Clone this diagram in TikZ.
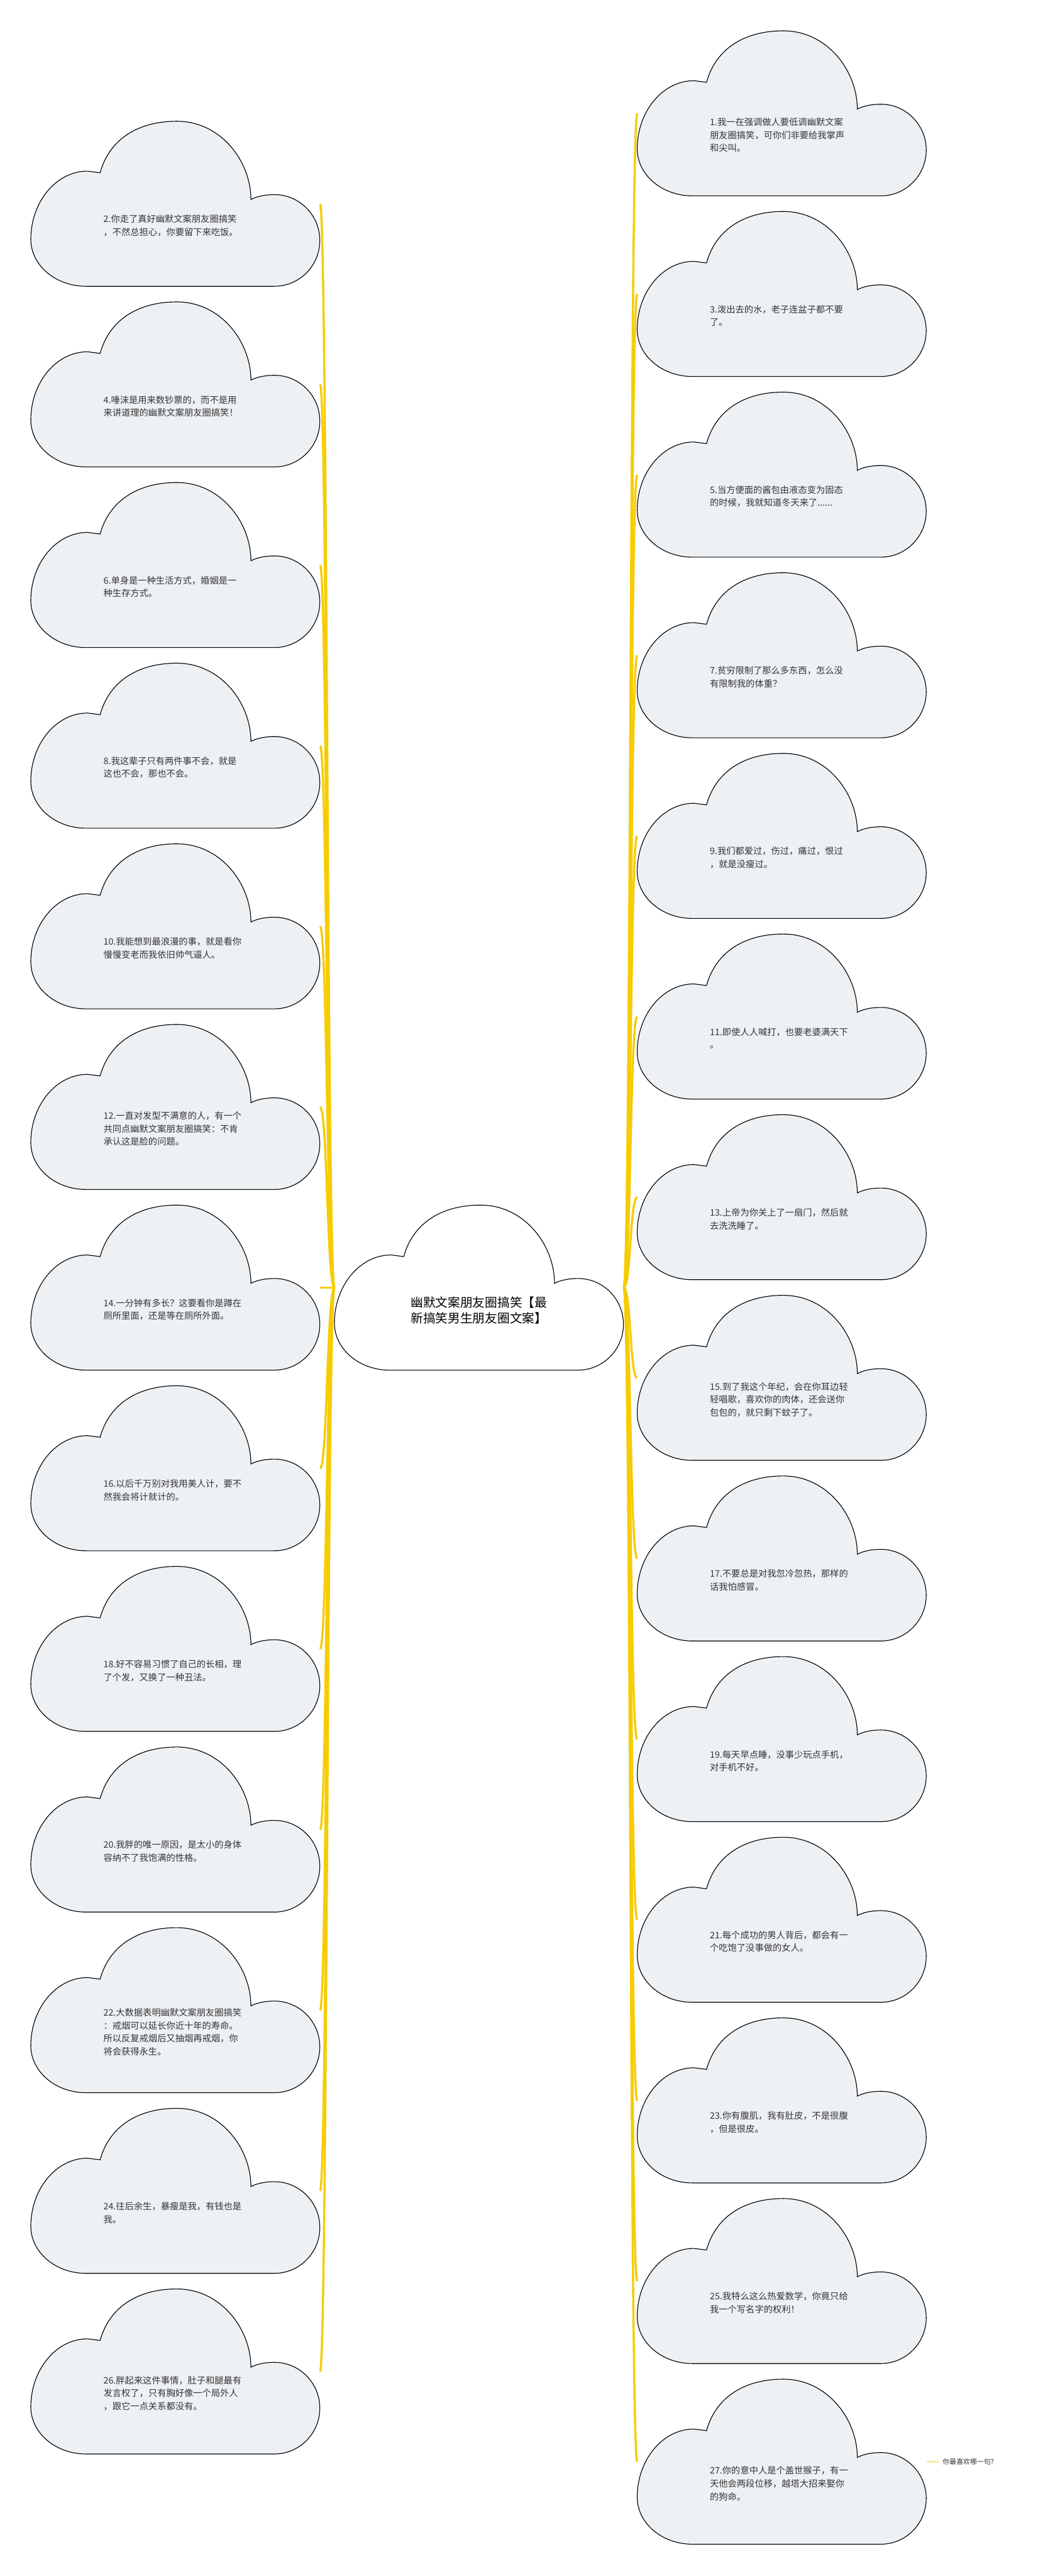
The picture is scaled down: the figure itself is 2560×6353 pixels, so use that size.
\documentclass[tikz,border=0pt]{standalone}
\usepackage{fontspec}
\setmainfont{Noto Sans CJK SC}
\usetikzlibrary{calc,positioning}
\definecolor{CloudClr}{rgb}{0.933,0.945,0.957}
\definecolor{BranchClr}{rgb}{0.965,0.800,0.0}
\definecolor{TextClr}{rgb}{0.2,0.2,0.2}

\tikzset{
  cloudbox/.style={minimum width=14.26cm,minimum height=8.14cm,inner sep=0pt,anchor=north west},
  cloudtext/.style={anchor=west,align=left,inner sep=0pt,text=TextClr,
    font=\fontsize{12.6pt}{18.2pt}\selectfont},
  titletext/.style={anchor=west,align=left,inner sep=0pt,text=black,
    font=\fontsize{17.4pt}{22.2pt}\selectfont},
  picktext/.style={anchor=west,inner xsep=0.2cm,inner ysep=0pt,text=TextClr,
    font=\fontsize{9.6pt}{12pt}\selectfont},
  branch/.style={draw=BranchClr,line width=3pt}
}

% 云朵的轮廓, 左上角在 (#2,#3)
\newcommand{\CloudShape}[3][CloudClr]{%
  \filldraw[fill=#1,draw=black,line width=1pt,shift={(#2,#3)}]
    (136,407) .. controls (61,407) and (0,355) .. (0,291)
    .. controls (0,200) and (62,123) .. (140,123) -- (171,127)
    .. controls (195,40) and (270,0) .. (360,0)
    .. controls (470,0) and (543,100) .. (543,193)
    .. controls (560,184) and (582,181) .. (601,181)
    .. controls (663,181) and (713,232) .. (713,294)
    .. controls (713,356) and (663,407) .. (601,407) -- cycle;}

% 一朵云: 名字, x, y, 文字
\newcommand{\Cloud}[4]{%
  \CloudShape{#2}{#3}
  \node[cloudbox] (#1) at (#2,#3) {};
  \node[cloudtext] (#1t) at ([xshift=3.58cm,yshift=-1.07cm]#1.west) {#4};}

% 中心到左右两边的连线
\newcommand{\LBranch}[1]{\draw[branch] (root.west) .. controls +(-18,0) and +(18,0) .. (#1.east);}
\newcommand{\RBranch}[1]{\draw[branch] (root.east) .. controls +(18,0) and +(-18,0) .. (#1.west);}

\begin{document}
\begin{tikzpicture}[x=0.02cm,y=-0.02cm]
\fill[white] (0,0) rectangle (2560,6353);

% 中心的云朵
\CloudShape[white]{825}{2972}
\node[cloudbox] (root) at (825,2972) {};
\node[titletext] (roott) at ([xshift=3.76cm,yshift=-1.12cm]root.west) {幽默文案朋友圈搞笑【最\\新搞笑男生朋友圈文案】};

% 左边的云朵
\Cloud{l2}{76}{299}{2.你走了真好幽默文案朋友圈搞笑\\，不然总担心，你要留下来吃饭。}
\Cloud{l4}{76}{744.5}{4.唾沫是用来数钞票的，而不是用\\来讲道理的幽默文案朋友圈搞笑！}
\Cloud{l6}{76}{1190}{6.单身是一种生活方式，婚姻是一\\种生存方式。}
\Cloud{l8}{76}{1635.5}{8.我这辈子只有两件事不会，就是\\这也不会，那也不会。}
\Cloud{l10}{76}{2081}{10.我能想到最浪漫的事，就是看你\\慢慢变老而我依旧帅气逼人。}
\Cloud{l12}{76}{2526.5}{12.一直对发型不满意的人，有一个\\共同点幽默文案朋友圈搞笑：不肯\\承认这是脸的问题。}
\Cloud{l14}{76}{2972}{14.一分钟有多长？这要看你是蹲在\\厕所里面，还是等在厕所外面。}
\Cloud{l16}{76}{3417.5}{16.以后千万别对我用美人计，要不\\然我会将计就计的。}
\Cloud{l18}{76}{3863}{18.好不容易习惯了自己的长相，理\\了个发，又换了一种丑法。}
\Cloud{l20}{76}{4308.5}{20.我胖的唯一原因，是太小的身体\\容纳不了我饱满的性格。}
\Cloud{l22}{76}{4754}{22.大数据表明幽默文案朋友圈搞笑\\：戒烟可以延长你近十年的寿命。\\所以反复戒烟后又抽烟再戒烟，你\\将会获得永生。}
\Cloud{l24}{76}{5199.5}{24.往后余生，暴瘦是我，有钱也是\\我。}
\Cloud{l26}{76}{5645}{26.胖起来这件事情，肚子和腿最有\\发言权了，只有胸好像一个局外人\\，跟它一点关系都没有。}

% 右边的云朵
\Cloud{r1}{1572}{76}{1.我一在强调做人要低调幽默文案\\朋友圈搞笑，可你们非要给我掌声\\和尖叫。}
\Cloud{r3}{1572}{521.5}{3.泼出去的水，老子连盆子都不要\\了。}
\Cloud{r5}{1572}{967}{5.当方便面的酱包由液态变为固态\\的时候，我就知道冬天来了......}
\Cloud{r7}{1572}{1412.5}{7.贫穷限制了那么多东西，怎么没\\有限制我的体重？}
\Cloud{r9}{1572}{1858}{9.我们都爱过，伤过，痛过，恨过\\，就是没瘦过。}
\Cloud{r11}{1572}{2303.5}{11.即使人人喊打，也要老婆满天下\\。}
\Cloud{r13}{1572}{2749}{13.上帝为你关上了一扇门，然后就\\去洗洗睡了。}
\Cloud{r15}{1572}{3194.5}{15.到了我这个年纪，会在你耳边轻\\轻唱歌，喜欢你的肉体，还会送你\\包包的，就只剩下蚊子了。}
\Cloud{r17}{1572}{3640}{17.不要总是对我忽冷忽热，那样的\\话我怕感冒。}
\Cloud{r19}{1572}{4085.5}{19.每天早点睡，没事少玩点手机，\\对手机不好。}
\Cloud{r21}{1572}{4531}{21.每个成功的男人背后，都会有一\\个吃饱了没事做的女人。}
\Cloud{r23}{1572}{4976.5}{23.你有腹肌，我有肚皮，不是很腹\\，但是很皮。}
\Cloud{r25}{1572}{5422}{25.我特么这么热爱数学，你竟只给\\我一个写名字的权利！}
\Cloud{r27}{1572}{5867.5}{27.你的意中人是个盖世猴子，有一\\天他会两段位移，越塔大招来娶你\\的狗命。}

% 连线
\LBranch{l2} \LBranch{l4} \LBranch{l6} \LBranch{l8} \LBranch{l10} \LBranch{l12} \LBranch{l14}
\LBranch{l16} \LBranch{l18} \LBranch{l20} \LBranch{l22} \LBranch{l24} \LBranch{l26}
\RBranch{r1} \RBranch{r3} \RBranch{r5} \RBranch{r7} \RBranch{r9} \RBranch{r11} \RBranch{r13}
\RBranch{r15} \RBranch{r17} \RBranch{r19} \RBranch{r21} \RBranch{r23} \RBranch{r25} \RBranch{r27}

% 最后的小标签
\node[picktext] (pick) at ([xshift=0.6cm]r27.east) {你最喜欢哪一句?};
\draw[branch,line width=1.4pt] (r27.east) -- (pick.west);

\end{tikzpicture}
\end{document}
